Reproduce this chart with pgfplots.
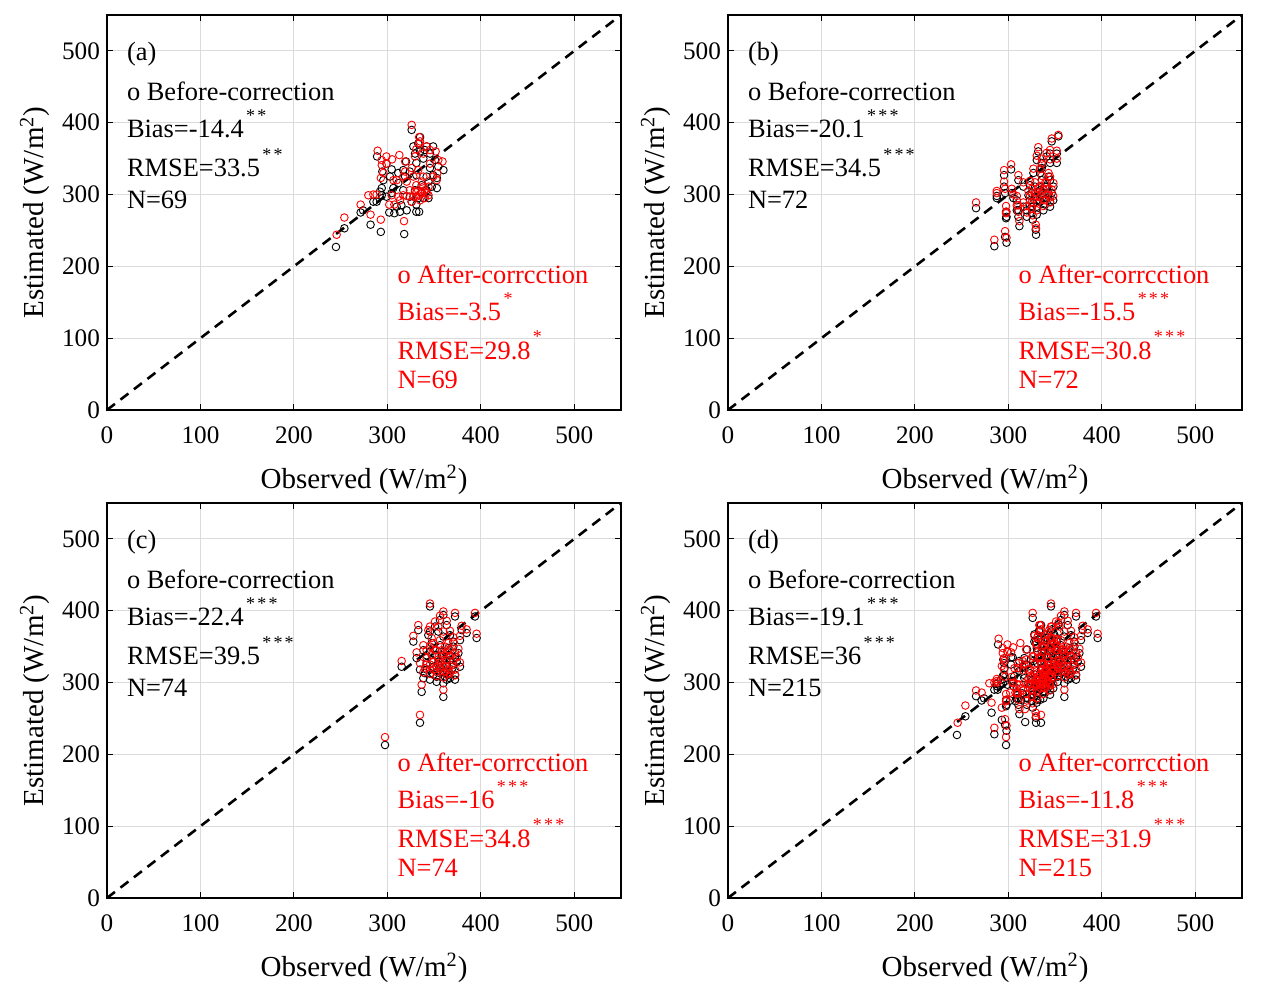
\documentclass[border=0pt]{standalone}
\usepackage{pgfplots}
\pgfplotsset{compat=1.18}
\usepackage{pgfplotstable}
\usepackage{fontspec}
\setmainfont{Liberation Serif}

\pgfplotstableread{
x y
245 227
254 253
271.4 275
282 258
293 248
285 290
294 309
294.6 332
304.6 335
289 353
302 275
307.5 274
313.5 276
320.7 278
318 245
306.4 309
326 390
333 371
335 360
338.5 350
345.6 337
360 334
353 323
353 309
344 295
331 276
334 276
311.7 316
319 325
329.6 357
331 344
340 362
324 297
329.6 306
310 283
315 285
338.5 295
333 295
345.6 357
351 348
349 327
295.7 320
299 343
294 299
288.5 290
274 278
336.7 313
331 327
342 306
336.7 302
326 290
349 367
342 367
317 334
324 332
299 297
304.6 302
344 318
317 306
320 346
354.5 339
331 286
342 325
347.5 311
292 304
302.8 325
311.7 330
327.8 367
335 380
}\Ablack

\pgfplotstableread{
x y
245.7 244
254 268
271.4 286
282 272
293 265
285 300
288.5 300
293 323
294 341
289.6 361
299 353
305 349
312.8 355
319 346
317.8 263
302 286
307.5 286
313.5 292
320.7 298
326 397
334 380
334 371
342 367
351.7 360
359 346
353.5 330
352.8 320
329.6 353
331 363
338.5 311
336.7 302
333 306
329.6 304
342 302
340 295
335 292
327.8 297
324 306
320.7 318
317 325
310 320
306.4 320
295.7 330
294 348
299 343
319 332
345.6 343
349 325
338.5 325
336.7 318
344 311
331 297
326 290
317 299
311.7 297
304.6 299
335 374
338.5 357
345.6 362
333 334
326 337
279.6 299
327.8 325
331 313
336.7 304
340 306
333 299
344 299
354.5 348
}\Ared

\pgfplotstableread{
x y z
265.4 281 289
285 228 237
287.6 295 302
295.4 311 318
295.4 327 334
296.5 302 308
297.5 276 284
297.5 267 274
296.5 241 249
298 233 240
302.9 335 342
305.4 295 300
310.7 320 327
310.7 278 285
310.7 269 276
311.8 256 263
319.7 278 284
326 265 271
329.6 244 253
329.3 251 258
323.2 292 298
325 302 308
326.8 330 336
330.4 348 354
332 360 366
335.7 344 350
341 353 358
344.6 357 362
351.8 344 350
346.4 374 378
353.5 381 383
335.7 320 326
341 311 317
344.6 320 325
346.4 302 307
344.6 290 296
339.3 286 292
334 290 296
330.4 283 289
325 283 289
328.6 297 303
332 304 309
337.5 302 307
341 295 300
348 292 298
343 325 330
334 330 336
328.6 311 317
323.2 313 319
316 311 317
309 292 298
303.6 302 308
287.6 298 305
316 283 289
319.7 269 275
337.5 278 284
344.6 283 289
330.4 272 278
325 274 280
335.7 337 343
344.6 344 349
348.2 311 316
330.4 292 298
335.7 295 301
339.3 311 316
343 302 308
326.8 288 294
321.5 299 305
334 306 312
351.8 357 361
298 269 276
309 278 285
}\Bdata

\pgfplotstableread{
x y z
297.5 213 224
334.9 244 255
336.7 287 297
359.9 280 290
338.5 306 314
345.6 304 312
352.7 301 309
359.9 299 307
367 306 313
372.4 311 318
377.7 322 328
376 341 347
363.5 315 322
356.3 313 320
349.2 311 318
342 318 325
334.9 318 327
331.3 334 342
315.3 322 330
327.8 357 365
333.1 373 380
345.6 371 378
343.8 366 373
349.2 348 355
352.7 338 345
359.9 364 371
363.5 380 386
356.3 387 393
359.9 394 399
372.4 392 397
345.6 406 410
365.2 348 355
370.6 350 356
377.7 359 365
384.8 369 374
393.8 392 397
395.5 362 368
367 338 345
359.9 331 338
354.5 325 332
347.4 331 338
356.3 320 327
363.5 325 332
368.8 318 324
361.7 308 315
352.7 308 315
345.6 318 325
370.6 325 331
374.2 329 335
367 331 337
351 338 345
342 338 345
361.7 343 350
356.3 352 359
347.4 355 362
370.6 357 363
379.5 373 379
351 378 385
342 327 334
352.7 315 322
359.9 315 322
365.2 311 318
349.2 322 329
358.1 325 332
363.5 336 343
372.4 336 342
345.6 343 350
358.1 338 345
338.5 345 352
354.5 371 378
367 366 372
363.5 304 311
340.2 313 320
372.4 304 310
}\Cdata

\definecolor{gridc}{gray}{0.86}

\pgfplotsset{
  myax/.style={
    scale only axis, width=257pt, height=197.5pt,
    anchor=south west,
    xmin=0, xmax=550, ymin=0, ymax=550,
    xtick={0,100,200,300,400,500}, ytick={0,100,200,300,400,500},
    grid=major, major grid style={gridc, line width=0.5pt},
    tick align=inside, xtick pos=both, ytick pos=both,
    major tick length=2.8pt,
    tick style={black, line width=0.5pt},
    axis line style={black, line width=0.6pt},
    /pgf/number format/assume math mode=true,
    ticklabel style={font=\fontsize{12.6}{14}\selectfont},
    xticklabel style={yshift=-5pt},
    xlabel={Observed (W/m\textsuperscript{2})},
    ylabel={Estimated (W/m\textsuperscript{2})},
    label style={font=\fontsize{14.5}{16}\selectfont},
    xlabel style={at={([yshift=-35pt]axis description cs:0.5,0)}, anchor=center},
    ylabel style={at={([xshift=-36pt]axis description cs:0,0.5)}, anchor=center},
  },
  bk/.style={only marks, mark=o, mark size=1.9pt, mark options={black, line width=0.45pt}},
  rd/.style={only marks, mark=o, mark size=1.9pt, mark options={red, line width=0.45pt}},
  dl/.style={black, line width=1.3pt, dash pattern=on 5pt off 3.5pt},
}
\tikzset{ann/.style={anchor=base west, inner sep=0pt, font=\fontsize{13.2}{15}\selectfont}}
\newcommand{\st}[1]{\kern1.2pt\raisebox{0.62em}{\fontsize{9}{9}\selectfont\addfontfeatures{LetterSpace=12}#1}}

\newcommand{\annot}[9]{%
  \node[ann] at (axis cs:21,486) {#1};
  \node[ann] at (axis cs:21,431) {o Before-correction};
  \node[ann] at (axis cs:21,379) {Bias=#2\st{#3}};
  \node[ann] at (axis cs:21,325) {RMSE=#4\st{#3}};
  \node[ann] at (axis cs:21,281) {N=#5};
  \node[ann, red] at (axis cs:310.5,176.4) {o After-corrcction};
  \node[ann, red] at (axis cs:310.5,124) {Bias=#6\st{#7}};
  \node[ann, red] at (axis cs:310.5,70.6) {RMSE=#8\st{#7}};
  \node[ann, red] at (axis cs:310.5,30) {N=#9};
}

\begin{document}
\begin{tikzpicture}
\useasboundingbox (0,0) rectangle (634pt,499.5pt);

% (a)
\begin{axis}[myax, at={(53.5pt,294.5pt)}]
\addplot[dl] coordinates {(0,0) (550,550)};
\addplot[bk] table[x=x,y=y] {\Ablack};
\addplot[rd] table[x=x,y=y] {\Ared};
\annot{(a)}{-14.4}{**}{33.5}{69}{-3.5}{*}{29.8}{69}
\end{axis}

% (b)
\begin{axis}[myax, at={(364pt,294.5pt)}]
\addplot[dl] coordinates {(0,0) (550,550)};
\addplot[bk] table[x=x,y=y] {\Bdata};
\addplot[rd] table[x=x,y=z] {\Bdata};
\annot{(b)}{-20.1}{***}{34.5}{72}{-15.5}{***}{30.8}{72}
\end{axis}

% (c)
\begin{axis}[myax, at={(53.5pt,50.5pt)}]
\addplot[dl] coordinates {(0,0) (550,550)};
\addplot[bk] table[x=x,y=y] {\Cdata};
\addplot[rd] table[x=x,y=z] {\Cdata};
\annot{(c)}{-22.4}{***}{39.5}{74}{-16}{***}{34.8}{74}
\end{axis}

% (d)
\begin{axis}[myax, at={(364pt,50.5pt)}]
\addplot[dl] coordinates {(0,0) (550,550)};
\addplot[bk] table[x=x,y=y] {\Ablack};
\addplot[bk] table[x=x,y=y] {\Bdata};
\addplot[bk] table[x=x,y=y] {\Cdata};
\addplot[rd] table[x=x,y=y] {\Ared};
\addplot[rd] table[x=x,y=z] {\Bdata};
\addplot[rd] table[x=x,y=z] {\Cdata};
\annot{(d)}{-19.1}{***}{36}{215}{-11.8}{***}{31.9}{215}
\end{axis}
\end{tikzpicture}
\end{document}
